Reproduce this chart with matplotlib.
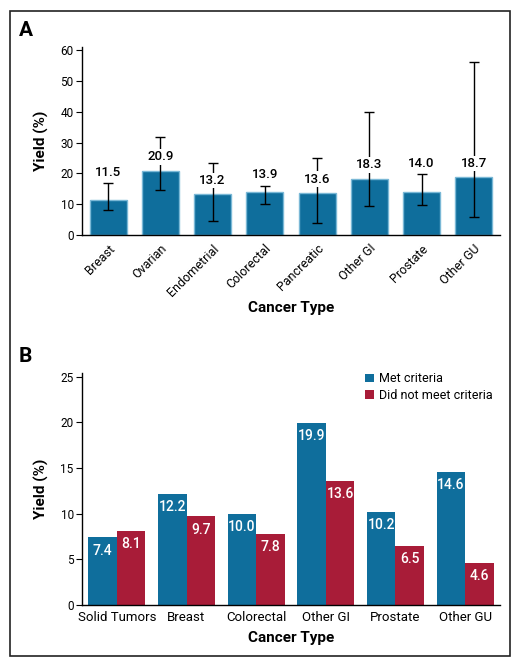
import numpy as np
import matplotlib
matplotlib.use("Agg")
from matplotlib import pyplot as plt
from matplotlib.patches import Rectangle

plt.rcParams['font.family'] = ['Roboto', 'DejaVu Sans']

# panel A data
types_a = ['Breast', 'Ovarian', 'Endometrial', 'Colorectal', 'Pancreatic',
           'Other GI', 'Prostate', 'Other GU']
yield_a = [11.5, 20.9, 13.2, 13.9, 13.6, 18.3, 14.0, 18.7]
ci_low = [8.0, 14.5, 4.7, 10.0, 4.0, 9.3, 9.7, 6.0]
ci_high = [16.8, 31.8, 23.3, 16.0, 24.9, 39.8, 19.7, 56.0]

# panel B data
types_b = ['Solid Tumors', 'Breast', 'Colorectal', 'Other GI', 'Prostate', 'Other GU']
met = [7.4, 12.2, 10.0, 19.9, 10.2, 14.6]
not_met = [8.1, 9.7, 7.8, 13.6, 6.5, 4.6]

blue = '#0f6e9c'
blue_edge = '#7ab8d6'
red = '#a81c38'

fig = plt.figure(figsize=(5.32, 6.66), dpi=100)
W, H = 532, 666

# outer frame
fig.patches.append(Rectangle((10 / W, 1 - 656 / H), 500 / W, 645 / H,
                             transform=fig.transFigure, fill=False,
                             edgecolor='#222222', linewidth=1.2))

def style(ax):
    for s in ['top', 'right']:
        ax.spines[s].set_visible(False)
    ax.spines['left'].set_linewidth(1.0)
    ax.spines['bottom'].set_linewidth(1.0)
    ax.tick_params(axis='y', length=4, width=0.8, labelsize=8.5, pad=2)
    ax.tick_params(axis='x', length=0, labelsize=9)

# ---- A ----
axA = fig.add_axes([82 / W, 1 - 235 / H, 418 / W, 188 / H])
x = np.arange(len(types_a))
axA.bar(x, yield_a, width=0.71, color=blue, edgecolor=blue_edge, linewidth=1.0, zorder=2)
lo = np.array(yield_a) - np.array(ci_low)
hi = np.array(ci_high) - np.array(yield_a)
axA.errorbar(x, yield_a, yerr=[lo, hi], fmt='none', ecolor='black',
             elinewidth=1.0, capsize=3.5, capthick=1.0, zorder=3)
for i, v in enumerate(yield_a):
    yl = v + 4.5
    if ci_high[i] < v + 7:
        yl = ci_high[i] + 3.5
    axA.text(i, yl, f'{v:.1f}', ha='center', va='center', fontsize=9.5, zorder=4,
             fontweight='medium',
             bbox=dict(boxstyle='square,pad=0.1', fc='white', ec='none'))
axA.set_xlim(-0.5, 7.5)
axA.set_ylim(0, 61)
axA.set_yticks(range(0, 61, 10))
axA.set_xticks(x)
axA.set_xticklabels(types_a, rotation=45, ha='right', rotation_mode='anchor')
style(axA)
axA.tick_params(axis='x', pad=5)
axA.set_ylabel('Yield (%)', fontsize=11, fontweight='bold', labelpad=8)
axA.set_xlabel('Cancer Type', fontsize=11, fontweight='bold')
axA.xaxis.set_label_coords(0.5, -(308 - 235) / 188, transform=axA.transAxes)
axA.xaxis.label.set_va('center')
fig.text(19 / W, 1 - 30 / H, 'A', fontsize=15, fontweight='bold', va='center')

# ---- B ----
axB = fig.add_axes([82 / W, 1 - 605 / H, 418 / W, 232 / H])
xb = np.arange(len(types_b))
bw = 0.41
axB.bar(xb - bw / 2, met, width=bw, color=blue, label='Met criteria', zorder=2)
axB.bar(xb + bw / 2, not_met, width=bw, color=red, label='Did not meet criteria', zorder=2)
for i in range(len(types_b)):
    axB.text(xb[i] - bw / 2, met[i] - 1.45, f'{met[i]:.1f}', ha='center', va='center',
             color='white', fontsize=10, fontweight='medium')
    axB.text(xb[i] + bw / 2, not_met[i] - 1.45, f'{not_met[i]:.1f}', ha='center', va='center',
             color='white', fontsize=10, fontweight='medium')
axB.set_xlim(-0.5, 5.5)
axB.set_ylim(0, 25.4)
axB.set_yticks(range(0, 26, 5))
axB.set_xticks(xb)
axB.set_xticklabels(types_b)
style(axB)
axB.tick_params(axis='x', pad=4, labelsize=9.5)
axB.set_ylabel('Yield (%)', fontsize=11, fontweight='bold', labelpad=8)
axB.set_xlabel('Cancer Type', fontsize=11, fontweight='bold')
axB.xaxis.set_label_coords(0.5, -(638 - 605) / 232, transform=axB.transAxes)
axB.xaxis.label.set_va('center')
axB.legend(loc='upper right', bbox_to_anchor=(1.0, 1.035), frameon=False, fontsize=9,
           handlelength=0.7, handleheight=0.7, handletextpad=0.4, labelspacing=0.3,
           borderaxespad=0.2)
fig.text(19 / W, 1 - 356 / H, 'B', fontsize=15, fontweight='bold', va='center')

fig.savefig('out.png', dpi=100)
